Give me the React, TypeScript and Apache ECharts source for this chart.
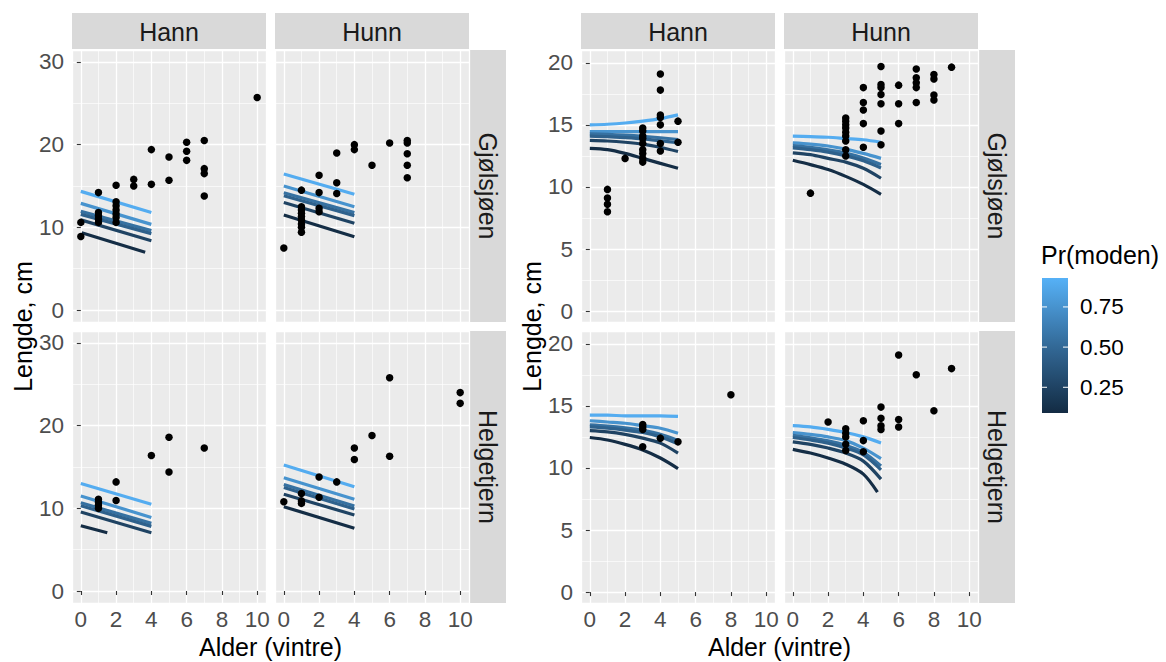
import React, { useEffect, useRef } from "react";
import * as echarts from "echarts";

const FONT = '"Liberation Sans", Arial, Helvetica, sans-serif';

// ---------- texts ----------
const sexes = ["Hann", "Hunn"];
const lakes = ["Gjølsjøen", "Helgetjern"];
const xTitle = "Alder (vintre)";
const yTitle = "Lengde, cm";
const legendTitle = "Pr(moden)";
const legendTicks = [0.25, 0.5, 0.75];
const legendTickLabels = ["0.25", "0.50", "0.75"];
const legendLimits = [0.09, 0.93];

// probability level for each curve (same order in every curve list)
const curveP = [0.9, 0.75, 0.55, 0.45, 0.25, 0.1];

// ---------- axis ranges ----------
const xRange = [-0.5, 10.5];
const xStep = 2;
const yRangeA = [-1.45, 31.45];
const yStepA = 10;
const yRangeB = [-0.88, 21.03];
const yStepB = 5;

// ---------- left figure (A) : points [age, length] ----------
const aGjHannPts = [
  [0, 10.6], [0, 8.9], [1, 14.2], [1, 11.8], [1, 11.4], [1, 11.0], [1, 10.6],
  [2, 15.1], [2, 13.1], [2, 12.6], [2, 12.1], [2, 11.6], [2, 11.2], [2, 10.6],
  [3, 15.8], [3, 15.0], [4, 19.4], [4, 15.2], [5, 18.5], [5, 15.7],
  [6, 20.3], [6, 19.2], [6, 18.1], [7, 20.5], [7, 17.1], [7, 16.5], [7, 13.8], [10, 25.7],
];
const aGjHunnPts = [
  [0, 7.5], [1, 14.5], [1, 12.5], [1, 12.1], [1, 11.7], [1, 11.3], [1, 10.9], [1, 10.4],
  [1, 10.0], [1, 9.4], [2, 16.3], [2, 14.2], [2, 12.3], [2, 11.9], [3, 19.0], [3, 15.4],
  [3, 14.1], [4, 20.0], [4, 19.4], [5, 17.5], [6, 20.2], [7, 20.5], [7, 20.2], [7, 18.9],
  [7, 17.5], [7, 16.0],
];
const aHeHannPts = [
  [1, 11.1], [1, 10.75], [1, 10.4], [1, 10.0], [2, 13.2], [2, 10.95], [4, 16.4],
  [5, 18.6], [5, 14.4], [7, 17.3],
];
const aHeHunnPts = [
  [0, 10.8], [1, 11.8], [1, 10.9], [1, 10.6], [2, 13.8], [2, 11.35], [3, 13.2],
  [4, 17.3], [4, 15.9], [5, 18.8], [6, 25.8], [6, 16.3], [10, 24.0], [10, 22.7],
];

// left figure curves (one per entry of curveP)
const aGjHannCurves = [
  [[0, 14.35], [4, 11.8]],
  [[0, 12.9], [4, 10.36]],
  [[0, 11.93], [4, 9.6]],
  [[0, 11.57], [4, 9.24]],
  [[0, 10.9], [4, 8.38]],
  [[0.05, 9.35], [3.65, 6.98]],
];
const aGjHunnCurves = [
  [[0, 16.45], [4, 14.0]],
  [[0, 15.0], [4, 12.5]],
  [[0, 14.18], [4, 11.78]],
  [[0, 13.82], [4, 11.42]],
  [[0, 13.0], [4, 10.5]],
  [[0, 11.5], [4, 8.86]],
];
const aHeHannCurves = [
  [[0, 13.0], [4, 10.5]],
  [[0, 11.5], [4, 8.9]],
  [[0, 10.68], [4, 8.18]],
  [[0, 10.32], [4, 7.82]],
  [[0, 9.55], [4, 7.05]],
  [[0, 7.9], [1.5, 7.05]],
];
const aHeHunnCurves = [
  [[0, 15.25], [4, 12.6]],
  [[0, 13.7], [4, 11.1]],
  [[0, 12.88], [4, 10.28]],
  [[0, 12.52], [4, 9.92]],
  [[0, 11.7], [4, 9.2]],
  [[0, 10.2], [4, 7.6]],
];

// ---------- right figure (B) : points ----------
const bGjHannPts = [
  [1, 9.8], [1, 9.1], [1, 8.6], [1, 8.0], [2, 12.3], [3, 14.75], [3, 14.5], [3, 14.1],
  [3, 13.9], [3, 13.5], [3, 13.0], [3, 12.7], [3, 12.3], [3, 12.0], [4, 19.1], [4, 17.8],
  [4, 15.8], [4, 15.6], [4, 15.0], [4, 13.5], [4, 12.9], [5, 15.3], [5, 13.6],
];
const bGjHunnPts = [
  [1, 9.5], [3, 15.55], [3, 15.3], [3, 15.0], [3, 14.75], [3, 14.4], [3, 14.1], [3, 13.7],
  [3, 13.0], [3, 12.5], [4, 18.0], [4, 16.8], [4, 16.2], [4, 15.1], [4, 13.2], [5, 19.7],
  [5, 18.25], [5, 18.0], [5, 17.45], [5, 16.7], [5, 14.5], [5, 13.4], [6, 18.2], [6, 16.7],
  [6, 15.1], [7, 19.5], [7, 18.8], [7, 18.4], [7, 18.0], [7, 16.8], [8, 19.05], [8, 18.7],
  [8, 17.4], [8, 17.0], [9, 19.65],
];
const bHeHannPts = [
  [3, 13.5], [3, 13.3], [3, 13.1], [3, 11.7], [4, 12.4], [5, 12.1], [8, 15.9],
];
const bHeHunnPts = [
  [2, 13.7], [3, 13.15], [3, 12.8], [3, 12.5], [3, 11.9], [3, 11.4], [4, 13.8], [4, 12.2],
  [4, 11.3], [5, 14.9], [5, 14.0], [5, 13.4], [5, 13.1], [6, 19.1], [6, 13.9], [6, 13.3],
  [7, 17.5], [8, 14.6], [9, 18.0],
];

// right figure curves
const bGjHannCurves = [
  [[0, 15.0], [1, 15.05], [2, 15.15], [3, 15.3], [4, 15.5], [5, 15.8]],
  [[0, 14.45], [1, 14.45], [2, 14.45], [3, 14.45], [4, 14.45], [5, 14.45]],
  [[0, 14.28], [1, 14.23], [2, 14.17], [3, 14.08], [4, 13.96], [5, 13.82]],
  [[0, 14.1], [1, 14.05], [2, 13.97], [3, 13.87], [4, 13.72], [5, 13.56]],
  [[0, 13.75], [1, 13.7], [2, 13.6], [3, 13.45], [4, 13.2], [5, 12.85]],
  [[0, 13.1], [1, 13.0], [2, 12.7], [3, 12.3], [4, 11.9], [5, 11.5]],
];
const bGjHunnCurves = [
  [[0, 14.1], [1, 14.05], [2, 14.0], [3, 13.9], [4, 13.8], [5, 13.6]],
  [[0, 13.55], [1, 13.45], [2, 13.3], [3, 13.05], [4, 12.7], [5, 12.3]],
  [[0, 13.33], [1, 13.18], [2, 12.98], [3, 12.72], [4, 12.32], [5, 11.8]],
  [[0, 13.15], [1, 13.0], [2, 12.8], [3, 12.5], [4, 12.1], [5, 11.52]],
  [[0, 12.75], [1, 12.6], [2, 12.3], [3, 12.0], [4, 11.5], [5, 10.7]],
  [[0, 12.15], [1, 11.8], [2, 11.4], [3, 10.85], [4, 10.2], [5, 9.4]],
];
const bHeHannCurves = [
  [[0, 14.25], [1, 14.25], [2, 14.2], [3, 14.2], [4, 14.2], [5, 14.15]],
  [[0, 13.8], [1, 13.7], [2, 13.6], [3, 13.4], [4, 13.2], [5, 12.8]],
  [[0, 13.48], [1, 13.38], [2, 13.23], [3, 13.03], [4, 12.72], [5, 12.22]],
  [[0, 13.3], [1, 13.2], [2, 13.05], [3, 12.85], [4, 12.5], [5, 11.95]],
  [[0, 13.0], [1, 12.9], [2, 12.7], [3, 12.4], [4, 12.0], [5, 11.2]],
  [[0, 12.45], [1, 12.25], [2, 11.9], [3, 11.45], [4, 10.8], [5, 9.95]],
];
const bHeHunnCurves = [
  [[0, 13.4], [1, 13.3], [2, 13.1], [3, 12.85], [4, 12.5], [5, 12.0]],
  [[0, 12.85], [1, 12.7], [2, 12.5], [3, 12.2], [4, 11.6], [5, 10.75]],
  [[0, 12.63], [1, 12.43], [2, 12.18], [3, 11.82], [4, 11.26], [5, 10.16]],
  [[0, 12.45], [1, 12.25], [2, 12.0], [3, 11.6], [4, 11.05], [5, 9.85]],
  [[0, 12.1], [1, 11.9], [2, 11.6], [3, 11.2], [4, 10.55], [5, 9.1]],
  [[0, 11.5], [1, 11.2], [2, 10.8], [3, 10.3], [4, 9.5], [4.8, 8.05]],
];

// ---------- colour helpers (ggplot default gradient) ----------
const gradStops = ["#132B43", "#336A98", "#56B1F7"];
function hexToRgb(h: string) {
  return [parseInt(h.slice(1, 3), 16), parseInt(h.slice(3, 5), 16), parseInt(h.slice(5, 7), 16)];
}
function mix(a: string, b: string, t: number) {
  const A = hexToRgb(a);
  const B = hexToRgb(b);
  const c = A.map((v, i) => Math.round(v + (B[i] - v) * t));
  return "#" + c.map((v) => v.toString(16).padStart(2, "0")).join("");
}
function colorFor(p: number) {
  let t = (p - legendLimits[0]) / (legendLimits[1] - legendLimits[0]);
  t = Math.max(0, Math.min(1, t));
  return t <= 0.5 ? mix(gradStops[0], gradStops[1], t / 0.5) : mix(gradStops[1], gradStops[2], (t - 0.5) / 0.5);
}

// ---------- layout ----------
const W = 1166;
const H = 662;
const figLeft = [72, 581];
const colOffset = 203;
const rowTop = [50, 331];
const PW = 194;
const PH = 272;
const TICK_FS = 22.5;
const STRIP_FS = 25;
const TITLE_FS = 25;
const LEG_FS = 22.5;
const LINE_W = 3.2;

type Panel = { fig: number; row: number; col: number; pts: number[][]; curves: number[][][] };
const panels: Panel[] = [
  { fig: 0, row: 0, col: 0, pts: aGjHannPts, curves: aGjHannCurves },
  { fig: 0, row: 0, col: 1, pts: aGjHunnPts, curves: aGjHunnCurves },
  { fig: 0, row: 1, col: 0, pts: aHeHannPts, curves: aHeHannCurves },
  { fig: 0, row: 1, col: 1, pts: aHeHunnPts, curves: aHeHunnCurves },
  { fig: 1, row: 0, col: 0, pts: bGjHannPts, curves: bGjHannCurves },
  { fig: 1, row: 0, col: 1, pts: bGjHunnPts, curves: bGjHunnCurves },
  { fig: 1, row: 1, col: 0, pts: bHeHannPts, curves: bHeHannCurves },
  { fig: 1, row: 1, col: 1, pts: bHeHunnPts, curves: bHeHunnCurves },
];

function txt(text: string, x: number, y: number, fs: number, fill: string, align = "center", rotation = 0) {
  return {
    type: "text", x, y, rotation, silent: true,
    style: { text, fill, fontSize: fs, fontFamily: FONT, align, verticalAlign: "middle", textAlign: align, textVerticalAlign: "middle" },
  };
}

function buildOption() {
  const grid: any[] = [];
  const xAxis: any[] = [];
  const yAxis: any[] = [];
  const series: any[] = [];
  const graphic: any[] = [];

  panels.forEach((p, k) => {
    const left = figLeft[p.fig] + p.col * colOffset;
    const top = rowTop[p.row];
    grid.push({ left, top, width: PW, height: PH, show: true, backgroundColor: "#EBEBEB", borderWidth: 0, containLabel: false });
    const showX = p.row === 1;
    const showY = p.col === 0;
    xAxis.push({
      type: "value",
      gridIndex: k,
      min: xRange[0],
      max: xRange[1],
      minInterval: xStep,
      maxInterval: xStep,
      axisLine: { show: false },
      axisTick: { show: showX, length: 4, lineStyle: { color: "#333333", width: 1.1 } },
      axisLabel: {
        show: showX, showMinLabel: false, showMaxLabel: false,
        color: "#4D4D4D", fontSize: TICK_FS, fontFamily: FONT, margin: 5,
      },
      splitLine: { show: true, lineStyle: { color: "#FFFFFF", width: 1.3 } },
      minorTick: { show: false, splitNumber: 2 },
      minorSplitLine: { show: true, lineStyle: { color: "#FFFFFF", width: 0.65 } },
    });
    const yr = p.fig === 0 ? yRangeA : yRangeB;
    const ys = p.fig === 0 ? yStepA : yStepB;
    yAxis.push({
      type: "value",
      gridIndex: k,
      min: yr[0],
      max: yr[1],
      minInterval: ys,
      maxInterval: ys,
      axisLine: { show: false },
      axisTick: { show: showY, length: 4, lineStyle: { color: "#333333", width: 1.1 } },
      axisLabel: {
        show: showY, showMinLabel: false, showMaxLabel: false,
        color: "#4D4D4D", fontSize: TICK_FS, fontFamily: FONT, margin: 8,
      },
      splitLine: { show: true, lineStyle: { color: "#FFFFFF", width: 1.3 } },
      minorTick: { show: false, splitNumber: 2 },
      minorSplitLine: { show: true, lineStyle: { color: "#FFFFFF", width: 0.65 } },
    });

    p.curves.forEach((c, j) => {
      const col = colorFor(curveP[j]);
      series.push({
        type: "line",
        xAxisIndex: k,
        yAxisIndex: k,
        data: c,
        symbol: "none",
        showSymbol: false,
        smooth: p.fig === 1 ? 0.3 : false,
        silent: true,
        z: 2,
        lineStyle: { color: col, width: LINE_W },
        itemStyle: { color: col },
      });
    });
    series.push({
      type: "scatter",
      xAxisIndex: k,
      yAxisIndex: k,
      data: p.pts,
      symbolSize: 7.5,
      z: 3,
      itemStyle: { color: "#000000", opacity: 1 },
    });

    // top strips
    if (p.row === 0) {
      graphic.push({ type: "rect", shape: { x: left, y: 13, width: PW, height: 36 }, style: { fill: "#D9D9D9" }, silent: true });
      graphic.push(txt(sexes[p.col], left + PW / 2, 31.5, STRIP_FS, "#1A1A1A"));
    }
    // right strips
    if (p.col === 1) {
      const sx = left + PW + 1;
      graphic.push({ type: "rect", shape: { x: sx, y: top, width: 36, height: PH }, style: { fill: "#D9D9D9" }, silent: true });
      graphic.push(txt(lakes[p.row], sx + 18, top + PH / 2, STRIP_FS, "#1A1A1A", "center", -Math.PI / 2));
    }
  });

  // axis titles
  [0, 1].forEach((f) => {
    const cx = figLeft[f] + (colOffset + PW) / 2;
    graphic.push(txt(xTitle, cx, 647, TITLE_FS, "#000000"));
    graphic.push(txt(yTitle, f === 0 ? 22.5 : 531.5, (rowTop[0] + rowTop[1] + PH) / 2, TITLE_FS, "#000000", "center", Math.PI / 2));
  });

  // colourbar legend
  const barX = 1042, barY = 278, barW = 26, barH = 135;
  graphic.push(txt(legendTitle, 1041, 255, TITLE_FS, "#000000", "left"));
  const stops = [];
  for (let i = 0; i <= 10; i++) {
    const t = i / 10;
    const p = legendLimits[1] - t * (legendLimits[1] - legendLimits[0]);
    stops.push({ offset: t, color: colorFor(p) });
  }
  graphic.push({
    type: "rect", silent: true,
    shape: { x: barX, y: barY, width: barW, height: barH },
    style: { fill: new echarts.graphic.LinearGradient(0, 0, 0, 1, stops) },
  });
  legendTicks.forEach((v, i) => {
    const ty = barY + barH - ((v - legendLimits[0]) / (legendLimits[1] - legendLimits[0])) * barH;
    graphic.push({ type: "line", silent: true, shape: { x1: barX, y1: ty, x2: barX + 5, y2: ty }, style: { stroke: "#FFFFFF", lineWidth: 1 } });
    graphic.push({ type: "line", silent: true, shape: { x1: barX + barW - 5, y1: ty, x2: barX + barW, y2: ty }, style: { stroke: "#FFFFFF", lineWidth: 1 } });
    graphic.push(txt(legendTickLabels[i], 1080, ty, LEG_FS, "#000000", "left"));
  });

  return {
    animation: false,
    backgroundColor: "#FFFFFF",
    textStyle: { fontFamily: FONT },
    grid,
    xAxis,
    yAxis,
    series,
    graphic: { elements: graphic },
  };
}

export default function App() {
  const ref = useRef<HTMLDivElement>(null);
  useEffect(() => {
    if (!ref.current) return;
    const chart = echarts.init(ref.current, undefined, { renderer: "svg" });
    chart.setOption(buildOption() as any);
    return () => chart.dispose();
  }, []);
  return <div ref={ref} style={{ position: "absolute", left: 0, top: 0, width: W, height: H }} />;
}
